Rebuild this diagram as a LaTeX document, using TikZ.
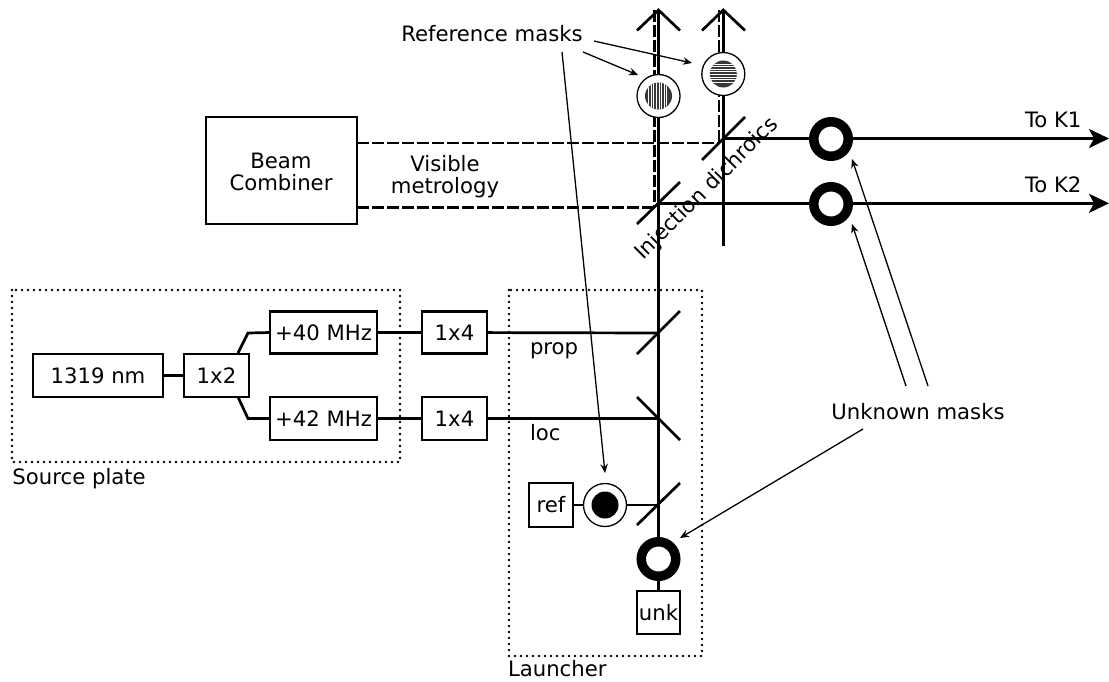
\documentclass[tikz,border=0pt]{standalone}
\usepackage{fontspec}
\setmainfont{DejaVu Sans}
\usetikzlibrary{arrows.meta}
\tikzset{
  x=1pt,y=-1pt,
  every node/.style={font=\fontsize{21.2}{25}\selectfont,inner sep=0pt,outer sep=0pt},
  beam/.style={line width=2.7pt},
  visible/.style={line width=2.6pt,dash pattern=on 11.5pt off 3.5pt},
  boxn/.style={draw,line width=2.7pt,fill=white,anchor=center},
  frame/.style={line width=2.6pt,line cap=round,dash pattern=on 0pt off 6pt},
  note/.style={line width=1.3pt,-{Stealth[length=9pt,width=7.5pt]}},
  outarrow/.style={line width=2.7pt,-{Stealth[length=20pt,width=19pt,inset=5pt]}},
  ring/.style={circle,draw,fill=white,line width=9.5pt,minimum size=34.5pt},
  maskn/.style={circle,draw,fill=white,line width=1.3pt,minimum size=43pt},
  blacksp/.style={circle,fill=black,minimum size=27pt},
  stripes/.style={circle,fill=black!78,minimum size=27pt},
  mirror/.style={line width=2.7pt},
}
\begin{document}
\begin{tikzpicture}
\useasboundingbox (0,0) rectangle (1109,681);
% frames
\coordinate (s1) at (12,290); \coordinate (s2) at (400,462);
\coordinate (l1) at (509,290); \coordinate (l2) at (702,656);
\draw[frame] (s1) rectangle (s2);
\draw[frame] (l1) rectangle (l2);
\node[anchor=base west] (srclabel) at (12.5,484) {Source plate};
\node[anchor=base west] (launchlabel) at (508,676) {Launcher};
% boxes
\node[boxn,minimum width=130pt,minimum height=43pt] (laser) at (98,375.5) {1319 nm};
\node[boxn,minimum width=65pt,minimum height=43pt] (split) at (216.5,375.5) {1x2};
\node[boxn,minimum width=107pt,minimum height=42pt] (f40) at (323.5,332.5) {+40 MHz};
\node[boxn,minimum width=107pt,minimum height=43pt] (f42) at (323.5,418.5) {+42 MHz};
\node[boxn,minimum width=65pt,minimum height=42pt] (d1) at (454.5,332.5) {1x4};
\node[boxn,minimum width=65pt,minimum height=43pt] (d2) at (454.5,418.5) {1x4};
\node[boxn,minimum width=44pt,minimum height=44pt] (ref) at (551,505) {ref};
\node[boxn,minimum width=43pt,minimum height=43pt] (unk) at (658.5,612.5) {unk};
\node[boxn,minimum width=151pt,minimum height=107pt,align=center] (bc) at (281.5,170.5) {};
\node[anchor=base] (bct1) at (281,168) {Beam};
\node[anchor=base] (bct2) at (281,190) {Combiner};
% coordinates on the beams
\coordinate (top1) at (658.5,10); \coordinate (top2) at (723.3,10);
\coordinate (dtop1) at (654.3,10); \coordinate (dtop2) at (719,10);
\coordinate (end2) at (723.3,246);
\coordinate (m1) at (658.5,203.3); \coordinate (m2) at (723.3,138.5);
\coordinate (dm1) at (654.3,207.5); \coordinate (dm2) at (719,143);
\coordinate (p) at (658.5,333); \coordinate (q) at (658.5,418.5); \coordinate (r) at (658.5,505);
\coordinate (out1) at (1109,138.5); \coordinate (out2) at (1109,203.3);
\coordinate (bcup) at (357,143); \coordinate (bclo) at (357,207.5);
% beams
\draw[beam] (top1) -- (658.5,559);
\draw[beam] (top2) -- (end2);
\draw[visible] (dtop1) -- (dm1);
\draw[visible] (dtop2) -- (dm2);
\draw[visible] (bcup) -- (dm2);
\draw[visible] (bclo) -- (dm1);
\draw[outarrow] (m2) -- (out1);
\draw[outarrow] (m1) -- (out2);
\draw[beam] (laser) -- (split);
\draw[beam] (238,353) -- (248,333) -- (f40.west);
\draw[beam] (238,397) -- (248,418.5) -- (f42.west);
\draw[beam] (f40) -- (d1);
\draw[beam] (f42) -- (d2);
\draw[beam] (d1) -- (p);
\draw[beam] (d2) -- (q);
\draw[beam] (ref) -- (r);
\draw[beam] (unk) -- (658.5,559);
% arrow heads at top
\coordinate (c1a) at (637,30.5); \coordinate (c1b) at (680,30.5);
\coordinate (c2a) at (702,30.5); \coordinate (c2b) at (745,30.5);
\draw[mirror,line join=miter] (c1a) -- (top1) -- (c1b);
\draw[mirror,line join=miter] (c2a) -- (top2) -- (c2b);
% mirrors
\draw[mirror] (637,224) -- (680,182);
\draw[mirror] (702,160) -- (745,117);
\draw[mirror] (637,354) -- (680,311);
\draw[mirror] (637,397) -- (680,440);
\draw[mirror] (637,525) -- (680,483);
% masks
\node[maskn] (mv) at (658.5,96) {};
\node[stripes] (mvi) at (658.5,96) {};
\begin{scope}
\clip (658.5,96) circle (13.5);
\foreach \d in {-10,-7.4,...,10.5} \draw[white,line width=.7pt] (658.5+\d,80) -- (658.5+\d,112);
\end{scope}
\node[maskn] (mh) at (723.3,74) {};
\node[stripes] (mhi) at (723.3,74) {};
\begin{scope}
\clip (723.3,74) circle (13.5);
\foreach \d in {-10,-7.4,...,10.5} \draw[white,line width=.7pt] (705,74+\d) -- (741,74+\d);
\end{scope}
\node[maskn] (mr) at (605,505) {};
\node[blacksp] (mri) at (605,505) {};
\node[ring] (u1) at (831,139) {};
\node[ring] (u2) at (831,204) {};
\node[ring] (u3) at (658.5,559) {};
% labels
\node[anchor=base] (vis1) at (445,171.5) {Visible};
\node[anchor=base] (vis2) at (445,193) {metrology};
\node[rotate=45] (inj) at (707,189) {Injection dichroics};
\node[anchor=base] (reflab) at (492,41) {Reference masks};
\node[anchor=base] (unklab) at (918,419) {Unknown masks};
\node[anchor=base west] (k1) at (1025,127) {To K1};
\node[anchor=base west] (k2) at (1025,192) {To K2};
\node[anchor=base west] (prop) at (530,354.5) {prop};
\node[anchor=base west] (loc) at (530,440) {loc};
% notes
\coordinate (a1) at (583,52); \coordinate (b1) at (638,75);
\coordinate (a2) at (594,41); \coordinate (b2) at (692,63);
\coordinate (a3) at (562,52); \coordinate (b3) at (605,473);
\coordinate (a4) at (906,386); \coordinate (b4) at (852,224);
\coordinate (a5) at (928,386); \coordinate (b5) at (852,159);
\coordinate (a6) at (863,429); \coordinate (b6) at (680,538);
\foreach \i in {1,...,6} \draw[note] (a\i) -- (b\i);
\end{tikzpicture}
\end{document}
